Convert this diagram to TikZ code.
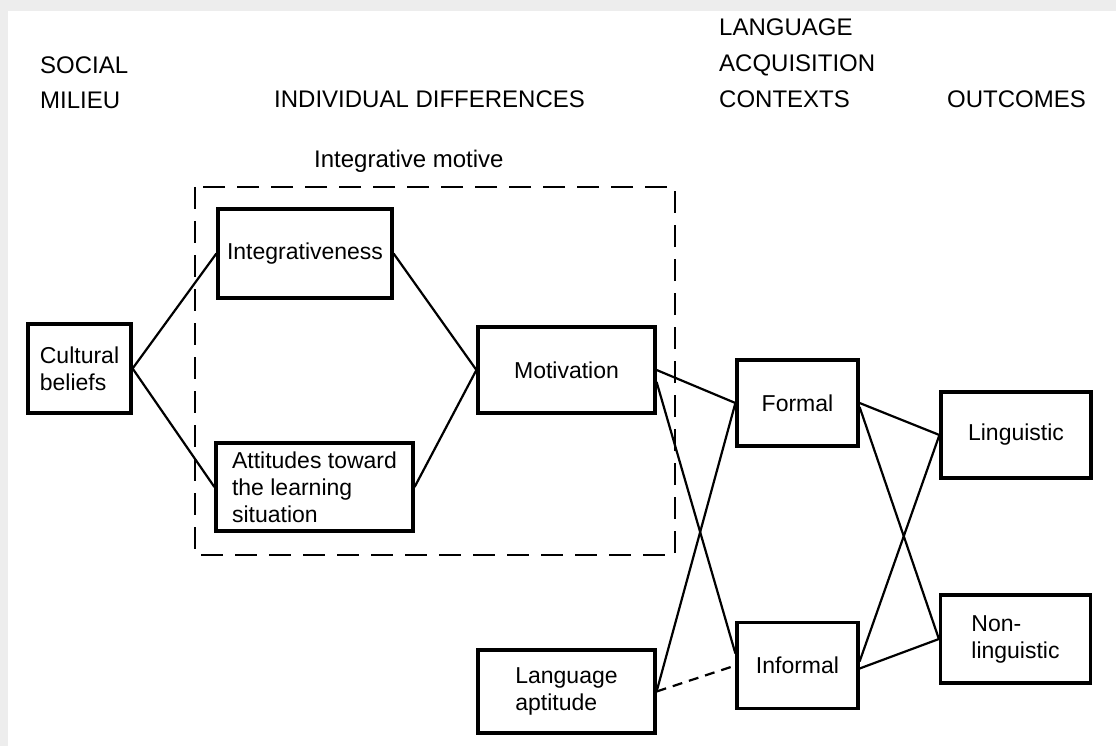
\documentclass[tikz,border=0pt]{standalone}
\usepackage{fontspec}
\setmainfont{Liberation Sans}
\begin{document}
\begin{tikzpicture}[x=1pt,y=-1pt,
  box/.style={draw=black, line width=3.2pt, inner sep=0pt, align=left,
    font=\fontsize{23}{27}\selectfont},
  head/.style={anchor=base west, inner sep=0pt, font=\fontsize{24}{30}\selectfont},
  conn/.style={line width=2.2pt},
  dconn/.style={line width=2.2pt, dash pattern=on 10pt off 7pt},
  motive/.style={draw=black, line width=2.4pt, dash pattern=on 22pt off 12pt}]
\useasboundingbox (0,0) rectangle (1116,746);
\fill[white] (0,0) rectangle (1116,746);
\fill[black!7] (0,0) rectangle (1116,11);
\fill[black!7] (0,0) rectangle (8,746);

% headers
\node[head] (hs1) at (40,74) {SOCIAL};
\node[head] (hs2) at (40,109) {MILIEU};
\node[head] (hid) at (274,108) {INDIVIDUAL DIFFERENCES};
\node[head] (hl1) at (719,36) {LANGUAGE};
\node[head] (hl2) at (719,72) {ACQUISITION};
\node[head] (hl3) at (719,108) {CONTEXTS};
\node[head] (ho) at (947,108) {OUTCOMES};
\node[head] (him) at (314,168) {Integrative motive};

% dashed integrative motive frame
\draw[motive] (195,187) rectangle (675,555);

% boxes
\node[box, minimum width=103pt, minimum height=89pt] (cult) at (79.5,368.5) {Cultural\\beliefs};
\node[box, minimum width=174pt, minimum height=89pt] (integ) at (305,253.5) {Integrativeness};
\node[box, minimum width=197pt, minimum height=88pt] (att) at (314.5,487) {Attitudes toward\\the learning\\situation};
\node[box, minimum width=177pt, minimum height=86pt] (motiv) at (566.5,370) {Motivation};
\node[box, minimum width=177pt, minimum height=83pt] (apt) at (566.5,691.5) {Language\\aptitude};
\node[box, minimum width=121pt, minimum height=86pt] (formal) at (797.5,403) {Formal};
\node[box, minimum width=121pt, minimum height=86pt] (informal) at (797.5,665.5) {Informal};
\node[box, minimum width=150pt, minimum height=86pt] (ling) at (1016,435) {Linguistic};
\node[box, minimum width=150pt, minimum height=88pt] (nonling) at (1015.5,639) {Non-\\linguistic};

% connectors
\draw[conn] (cult.east) -- (integ.west);
\draw[conn] (cult.east) -- (att.west);
\draw[conn] (integ.east) -- (motiv.west);
\draw[conn] (att.east) -- (motiv.west);
\draw[conn] (motiv.east) -- (formal.west);
\draw[conn] ([yshift=-12pt]motiv.east) -- ([yshift=12pt]informal.west);
\draw[conn] (apt.east) -- (formal.west);
\draw[dconn] (apt.east) -- (informal.west);
\draw[conn] (formal.east) -- (ling.west);
\draw[conn] ([yshift=-4pt]formal.east) -- (nonling.west);
\draw[conn] ([yshift=4pt]informal.east) -- (ling.west);
\draw[conn] ([yshift=-3pt]informal.east) -- (nonling.west);
\end{tikzpicture}
\end{document}
